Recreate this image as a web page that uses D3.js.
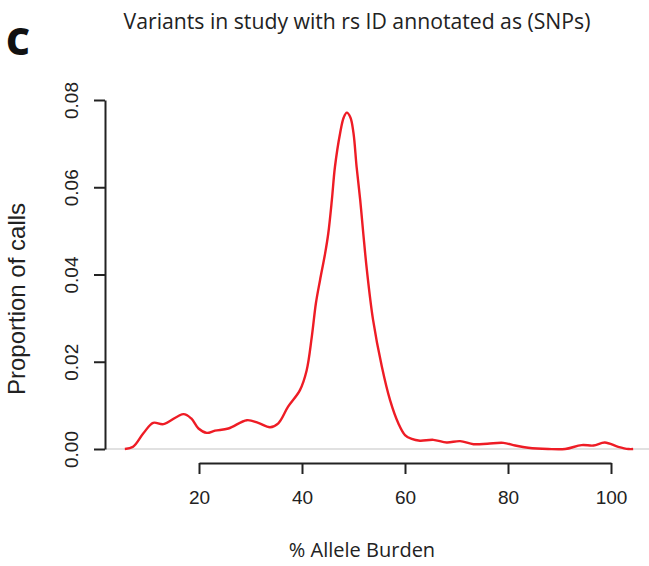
<!DOCTYPE html>
<html><head><meta charset="utf-8">
<script src="https://cdn.jsdelivr.net/npm/d3@7"></script>
<style>body{margin:0;background:#fff}svg{display:block}</style>
</head><body>
<script>
const burden = [5.6,7.2,9.2,11.1,13.1,17.0,18.5,19.9,21.5,23.1,25.7,29.3,31.5,33.8,35.4,37.3,39.6,40.9,41.9,42.7,43.5,44.5,45.1,45.8,46.4,47.4,48.1,48.7,49.4,50.0,50.6,51.3,51.9,52.6,53.8,55.5,57.1,58.7,60.0,61.3,62.9,65.5,68.1,70.7,73.3,76.0,79.1,81.4,83.9,87.8,91.1,94.3,96.6,98.8,101.4,103.4,104.3];
const proportion = [0,0.0005,0.0036,0.0060,0.0057,0.0080,0.0070,0.0047,0.0037,0.0042,0.0047,0.0066,0.0060,0.0050,0.0059,0.0097,0.0135,0.0180,0.0257,0.0334,0.0387,0.0449,0.0494,0.0571,0.0647,0.0724,0.0760,0.0771,0.0760,0.0724,0.0647,0.0571,0.0494,0.0410,0.0296,0.0189,0.0112,0.0059,0.0032,0.0023,0.0019,0.0021,0.0015,0.0018,0.0011,0.0012,0.0014,0.0008,0.0003,0.0,0.0,0.0009,0.0008,0.0015,0.0005,0.0,0.0];
const xTicks = [20,40,60,80,100];
const yTicks = [0,0.02,0.04,0.06,0.08];
const titleText = "Variants in study with rs ID annotated as (SNPs)";
const panelLabel = "C";
const xLabel = "% Allele Burden";
const yLabel = "Proportion of calls";

const W = 649, H = 566;
const svg = d3.select("body").append("svg").attr("width", W).attr("height", H);
const x = d3.scaleLinear().domain([20,100]).range([199,611]);
const y = d3.scaleLinear().domain([0,0.08]).range([449,100]);

// baseline
svg.append("line").attr("x1",105).attr("x2",W).attr("y1",y(0)).attr("y2",y(0))
  .attr("stroke","#c4c4c4").attr("stroke-width",1.2);

// x axis
const xa = svg.append("g").attr("transform","translate(0,463)")
  .call(d3.axisBottom(x).tickValues(xTicks).tickSize(11).tickSizeOuter(0).tickPadding(17).tickFormat(d3.format("d")));
xa.selectAll("path,line").attr("stroke","#222").attr("stroke-width",2);
xa.selectAll("text").attr("font-family","Liberation Sans, Arial, sans-serif").attr("font-size",19).attr("fill","#222");

// y axis
const ya = svg.append("g").attr("transform","translate(105,0)")
  .call(d3.axisLeft(y).tickValues(yTicks).tickSize(11).tickSizeOuter(0).tickFormat(d3.format(".2f")));
ya.selectAll("path,line").attr("stroke","#222").attr("stroke-width",2);
ya.selectAll("text").remove();
ya.selectAll(".tick").append("text")
  .attr("transform","translate(-27,0) rotate(-90)")
  .attr("text-anchor","middle")
  .attr("font-family","Liberation Sans, Arial, sans-serif").attr("font-size",19).attr("fill","#222")
  .text(d => d3.format(".2f")(d));

// curve
const pts = burden.map((b,i)=>[b, proportion[i]]);
svg.append("path").datum(pts)
  .attr("d", d3.line().x(d=>x(d[0])).y(d=>y(d[1])).curve(d3.curveCatmullRom.alpha(0.5)))
  .attr("fill","none").attr("stroke","#ee1c25").attr("stroke-width",2.4);

// title
svg.append("text").attr("x",357).attr("y",29).attr("text-anchor","middle")
  .attr("font-family","Open Sans, sans-serif").attr("font-size",21.2).attr("fill","#222").text(titleText);
svg.append("text").attr("x",6).attr("y",55)
  .attr("font-family","Open Sans, sans-serif").attr("font-weight",800).attr("font-size",37).attr("fill","#111").text(panelLabel);
svg.append("text").attr("x",362).attr("y",557).attr("text-anchor","middle")
  .attr("font-family","Open Sans, sans-serif").attr("font-size",20).attr("fill","#222").text(xLabel);
svg.append("text").attr("transform","translate(25,299) rotate(-90)").attr("text-anchor","middle")
  .attr("font-family","Liberation Sans, Arial, sans-serif").attr("font-size",24).attr("fill","#222").text(yLabel);
</script>
</body></html>
